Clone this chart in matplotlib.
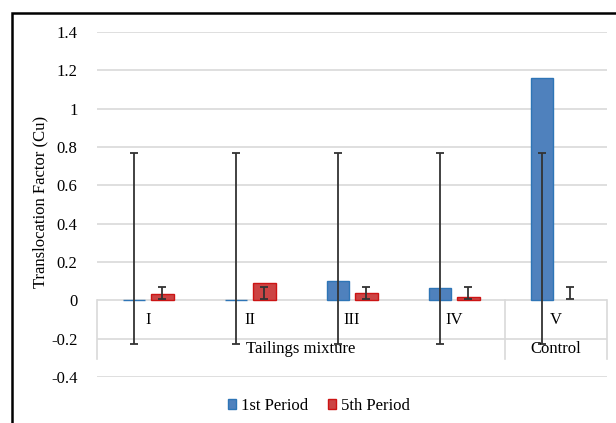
import numpy as np
import matplotlib
matplotlib.use("Agg")
import matplotlib.pyplot as plt
from matplotlib.patches import Patch, Rectangle

plt.rcParams['font.family'] = ['Liberation Serif', 'DejaVu Serif']

# data
categories = ['I', 'II', 'III', 'IV', 'V']
groups = ['Tailings mixture', 'Control']
group_sizes = [4, 1]
period1 = [0.003, 0.002, 0.10, 0.066, 1.16]
period5 = [0.031, 0.089, 0.038, 0.02, 0.0]
# error bar ends (low, high) as drawn in the original chart
period1_err_lo = [-0.23, -0.23, -0.23, -0.23, -0.23]
period1_err_hi = [0.77, 0.77, 0.77, 0.77, 0.77]
period5_err_lo = [0.005, 0.005, 0.005, 0.005, 0.005]
period5_err_hi = [0.07, 0.07, 0.07, 0.07, 0.07]

blue_fill, blue_edge = '#4F81BD', '#2E75B6'
red_fill, red_edge = '#CC4444', '#CC1414'
grid_col = '#D9D9D9'

W, H = 616, 423
fig = plt.figure(figsize=(W / 100, H / 100), dpi=100)
ax = fig.add_axes([97 / W, 1 - 377 / H, (607 - 97) / W, (377 - 32) / H])

x = np.arange(len(categories))
off, bw = 0.14, 0.22
ax.bar(x - off, period1, bw, color=blue_fill, edgecolor=blue_edge, linewidth=1, zorder=2)
# zero-height bars draw no outline
red_edges = [red_edge if v > 0 else 'none' for v in period5]
ax.bar(x + off, period5, bw, color=red_fill, edgecolor=red_edges, linewidth=1, zorder=2)

def draw_err(xs, lo, hi):
    lo, hi = np.array(lo), np.array(hi)
    ax.errorbar(xs, (lo + hi) / 2, yerr=(hi - lo) / 2, fmt='none',
                ecolor='#333333', elinewidth=1.3, capsize=3, capthick=1.3, zorder=3)

draw_err(x - off, period1_err_lo, period1_err_hi)
draw_err(x + off, period5_err_lo, period5_err_hi)

ax.set_xlim(-0.5, len(categories) - 0.5)
ax.set_ylim(-0.4, 1.4)
yt = np.round(np.arange(-0.4, 1.41, 0.2), 1)
ax.set_yticks(yt)
ax.set_yticklabels([f'{v:g}' for v in yt], fontsize=12)
ax.tick_params(axis='y', length=0, pad=14)
ax.set_xticks([])
for s in ax.spines.values():
    s.set_visible(False)
ax.grid(axis='y', color=grid_col, linewidth=1.2, zorder=0)
ax.set_axisbelow(True)

# multi-level category axis
table_bottom = -0.307
for i, c in enumerate(categories):
    ax.text(i, -0.1, c, ha='center', va='center', fontsize=12)
start = 0
edges = [-0.5]
for g, n in zip(groups, group_sizes):
    ax.text(start + (n - 1) / 2, -0.255, g, ha='center', va='center', fontsize=12)
    start += n
    edges.append(start - 0.5)
for e in edges:
    ax.plot([e, e], [0, table_bottom], color=grid_col, linewidth=1.2, clip_on=False, zorder=1)

fig.text(40 / W, 1 - 202 / H, 'Translocation Factor (Cu)', rotation=90,
         ha='center', va='center', fontsize=12)

handles = [Patch(facecolor=blue_fill, edgecolor=blue_edge, label='1st Period'),
           Patch(facecolor=red_fill, edgecolor=red_edge, label='5th Period')]
fig.legend(handles=handles, loc='center', bbox_to_anchor=(319 / W, 1 - 406 / H),
           ncol=2, frameon=False, fontsize=12, handlelength=0.5, handleheight=0.5,
           handletextpad=0.3, columnspacing=1.2)

# outer chart frame (cropped at right and bottom)
fig.add_artist(Rectangle((12 / W, -0.05), 1.1, 1 - 13 / H + 0.05, transform=fig.transFigure,
                         fill=False, edgecolor='black', linewidth=1.8, clip_on=False))

fig.savefig('out.png', dpi=100)
